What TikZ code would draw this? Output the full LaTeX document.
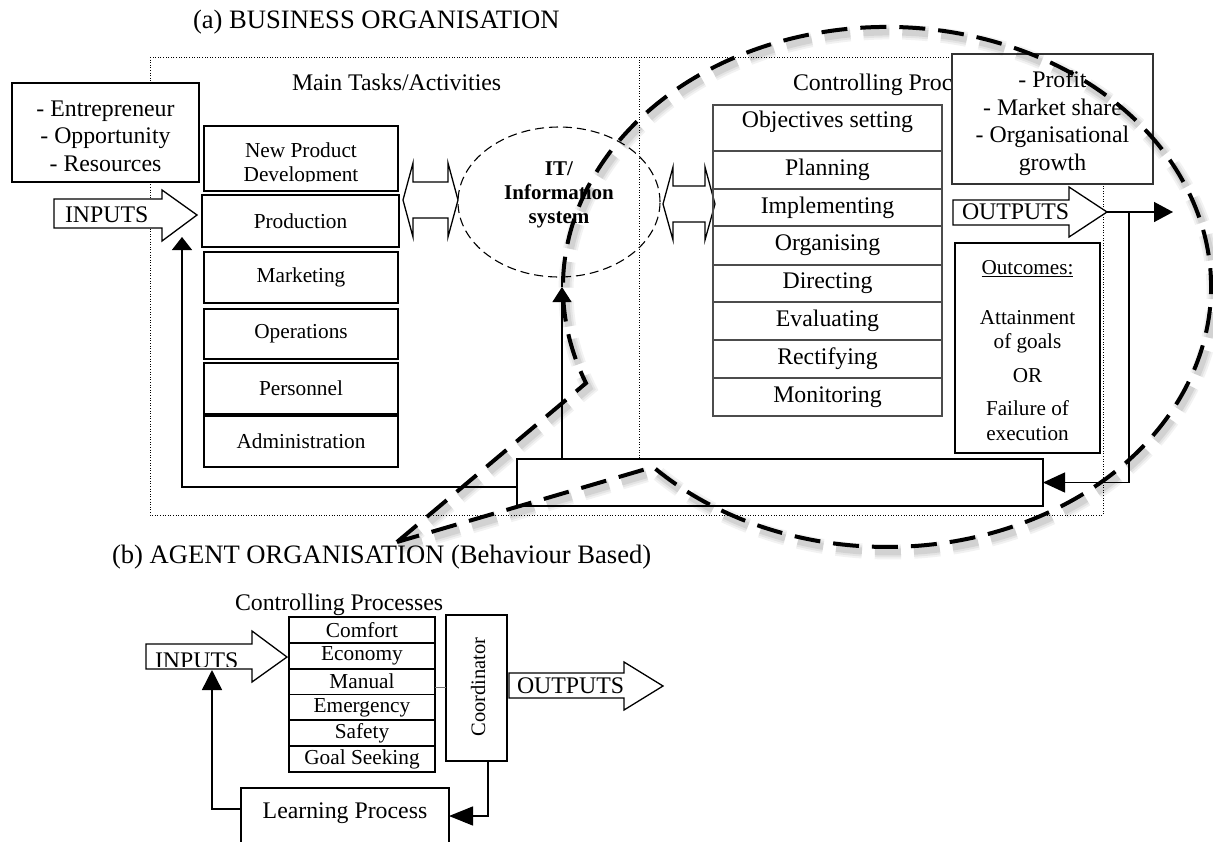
\documentclass[tikz,border=0pt]{standalone}
\usepackage{fontspec}
\setmainfont{Liberation Serif}
\usetikzlibrary{arrows.meta,shapes.geometric,calc}

\begin{document}
\begin{tikzpicture}[x=1pt,y=-1pt,
  every node/.style={inner sep=0pt,outer sep=0pt},
  fnt/.style={font=\fontsize{23.8}{27.5}\selectfont},
  fsm/.style={font=\fontsize{21.3}{24}\selectfont},
  ttl/.style={font=\fontsize{26.6}{30}\selectfont},
  lbox/.style={draw,line width=1.6pt,fill=white,minimum width=194,fsm},
  cbox/.style={draw=black!70,line width=1.2pt,minimum width=229,fnt},
  tbox/.style={draw,line width=1.8pt,minimum width=146,minimum height=25.83,fsm},
  blk/.style={draw,line width=1.3pt,fill=white,line join=miter},
  conn/.style={line width=1.4pt},
  dotframe/.style={line width=0.9pt,dash pattern=on 1pt off 1.6pt},
  bigdash/.style={line width=4pt,dash pattern=on 26pt off 13pt},
]
\useasboundingbox (0,0) rectangle (1213,841);
\clip (0,0) rectangle (1213,841);

% ---------------- (a) business organisation ----------------
\draw[dotframe] (150,57) rectangle (1103,515);
\draw[dotframe] (639,57) -- (639,459);

\node[ttl,anchor=base west] (ta) at (193,28) {(a) BUSINESS ORGANISATION};
\node[fnt,anchor=base west] (mta) at (292,90) {Main Tasks/Activities};
\node[fnt,anchor=base west] (cpa) at (793,90) {Controlling Processes};

% inputs side
\node[draw,line width=1.6pt,fill=white,minimum width=187,minimum height=99] (ent) at (105.5,132.5) {};
\node[align=center,fnt] (entt) at (105.5,136)
      {- Entrepreneur\\- Opportunity\\- Resources};

\draw[blk] (54,199) -- (162,199) -- (162,190) -- (197,215) -- (162,241)
           -- (162,228) -- (54,228) -- cycle;
\node[fnt,anchor=base west] (ina) at (65,222.5) {INPUTS};
\coordinate (inatip) at (182,237);

% main tasks
\node[lbox,minimum height=65] (npd) at (301,158.5) {};
\begin{scope}
  \clip (204,126) rectangle (398,181.5);
  \node[fsm,anchor=base] (npd1) at (301,157.5) {New Product};
  \node[fsm,anchor=base] (npd2) at (301,181) {Development};
\end{scope}
\node[lbox,minimum width=197,minimum height=52] (prod) at (300.5,221) {Production};
\node[lbox,minimum height=51] (mkt)  at (301,277.5) {Marketing};
\node[lbox,minimum height=50] (ops)  at (301,334)   {Operations};
\node[lbox,minimum height=51] (pers) at (301,388.5) {Personnel};
\node[lbox,minimum height=51] (adm)  at (301,441.5) {Administration};

% information system and its links
\draw[blk] (403,200) -- (413,163) -- (413,182) -- (448,182) -- (448,163)
           -- (458,200) -- (448,237) -- (448,218) -- (413,218) -- (413,237) -- cycle;
\node[ellipse,draw,line width=1.1pt,dash pattern=on 9pt off 5pt,
      minimum width=202,minimum height=150] (it) at (559,202) {};
\node[font=\bfseries\fontsize{21}{24}\selectfont,align=center] (itt) at (559,195)
      {IT/\\Information\\system};
\draw[blk] (663,204) -- (673,167) -- (673,186) -- (705,186) -- (705,167)
           -- (715,204) -- (705,240) -- (705,222) -- (673,222) -- (673,240) -- cycle;

% controlling processes
\node[cbox,minimum height=46] (c0) at (827.5,128) {};
\node[fnt] (c0t) at (827.5,122) {Objectives setting};
\node[cbox,minimum height=38] (c1) at (827.5,170)   {Planning};
\node[cbox,minimum height=37] (c2) at (827.5,207.5) {Implementing};
\node[cbox,minimum height=39] (c3) at (827.5,245.5) {Organising};
\node[cbox,minimum height=37] (c4) at (827.5,283.5) {Directing};
\node[cbox,minimum height=38] (c5) at (827.5,321)   {Evaluating};
\node[cbox,minimum height=38] (c6) at (827.5,359)   {Rectifying};
\node[cbox,minimum height=38] (c7) at (827.5,397)   {Monitoring};

% results
\node[draw=black!80,line width=1.3pt,fill=white,minimum width=201,minimum height=130] (prof) at (1052.5,119) {};
\node[align=center,fnt] (proft) at (1052.5,123)
      {- Profit\\- Market share\\- Organisational\\growth};

\draw[blk] (953,200) -- (1069,200) -- (1069,187) -- (1107,212) -- (1069,237)
           -- (1069,225) -- (953,225) -- cycle;
\node[fnt,anchor=base west] (outa) at (962,219.8) {OUTPUTS};
\coordinate (outatip) at (1107,212);
\coordinate (outend) at (1173,212);
\coordinate (branch) at (1129,212);

\node[draw,line width=1.3pt,minimum width=145,minimum height=210] (outc) at (1027.5,348) {};
\node[align=center,font=\fontsize{21.2}{24.5}\selectfont] (outct) at (1027.5,350.5)
      {\underline{Outcomes:}\\[25.5pt]Attainment\\of goals\\[9.5pt]OR\\[8.5pt]Failure of\\execution};

% feedback bar
\node[draw,line width=1.3pt,minimum width=526,minimum height=47] (fb) at (780,482.5) {};
\coordinate (ittip) at (562,287);

\draw[conn,-{Triangle[length=19pt,width=20pt]}] (outatip) -- (outend);
\draw[conn,-{Triangle[length=22pt,width=20pt]}] (branch) |- (fb.east);
\draw[conn,-{Triangle[length=13pt,width=20pt]}] ([yshift=-4.5pt]fb.west) -| (inatip);
\draw[line width=1.2pt,-{Triangle[length=15pt,width=19pt]}] (fb.north -| ittip) -- (ittip);
\draw[line width=1.2pt] (ittip) -- (it.south -| ittip);

% ---------------- (b) agent organisation ----------------
\node[ttl,anchor=base west] (tb) at (112,563) {(b) AGENT ORGANISATION (Behaviour Based)};
\node[fnt,anchor=base west] (cpb) at (235,610) {Controlling Processes};

\node[tbox] (b1) at (362,629.9) {Comfort};
\node[tbox] (b2) at (362,655.8) {Economy};
\node[tbox] (b3) at (362,681.6) {Manual};
\node[tbox] (b4) at (362,707.4) {Emergency};
\node[tbox] (b5) at (362,733.3) {Safety};
\node[tbox] (b6) at (362,759.1) {Goal Seeking};

\node[draw,line width=1.6pt,minimum width=61,minimum height=146] (crd) at (476.5,688) {};
\node[rotate=90,font=\fontsize{20.5}{24}\selectfont] (crdt) at (478,687) {Coordinator};
\draw[black!55,line width=1pt] ([yshift=-6pt]b3.east) -- ([yshift=-6pt]b3.east -| crd.west);

\draw[blk] (146,644) -- (252,644) -- (252,631) -- (287,657) -- (252,682)
           -- (252,669) -- (146,669) -- cycle;
\begin{scope}
  \clip (146,640) rectangle (252,666.5);
  \node[fnt,anchor=base west] (inb) at (155,668) {INPUTS};
\end{scope}
\coordinate (inbtip) at (212,670);

\draw[blk] (509,673) -- (624,673) -- (624,662) -- (663,686) -- (624,710)
           -- (624,698) -- (509,698) -- cycle;
\node[fnt,anchor=base west] (outb) at (517,693.5) {OUTPUTS};

\node[draw,line width=1.6pt,minimum width=208,minimum height=56] (learn) at (345,816) {};
\node[fnt] (learnt) at (345,813) {Learning Process};

\draw[conn,-{Triangle[length=24pt,width=19pt]}] ([xshift=11.5pt]crd.south) |- (learn.east);
\draw[conn,-{Triangle[length=20pt,width=20pt]}] ([yshift=7pt]learn.west) -| (inbtip);

% ---------------- magnifying call-out ----------------
\foreach \w/\o in {15/0.05,11/0.06,7/0.08}{
  \draw[line width=\w pt,dash pattern=on 26pt off 13pt,black,opacity=\o,shift={(3,5)}]
    (397,542) -- (586,383.1)
    arc[start angle=158.3,end angle=496.2,x radius=324,y radius=260] -- cycle;
}
\draw[bigdash] (397,542) -- (586,383.1)
  arc[start angle=158.3,end angle=496.2,x radius=324,y radius=260] -- cycle;
\end{tikzpicture}
\end{document}
